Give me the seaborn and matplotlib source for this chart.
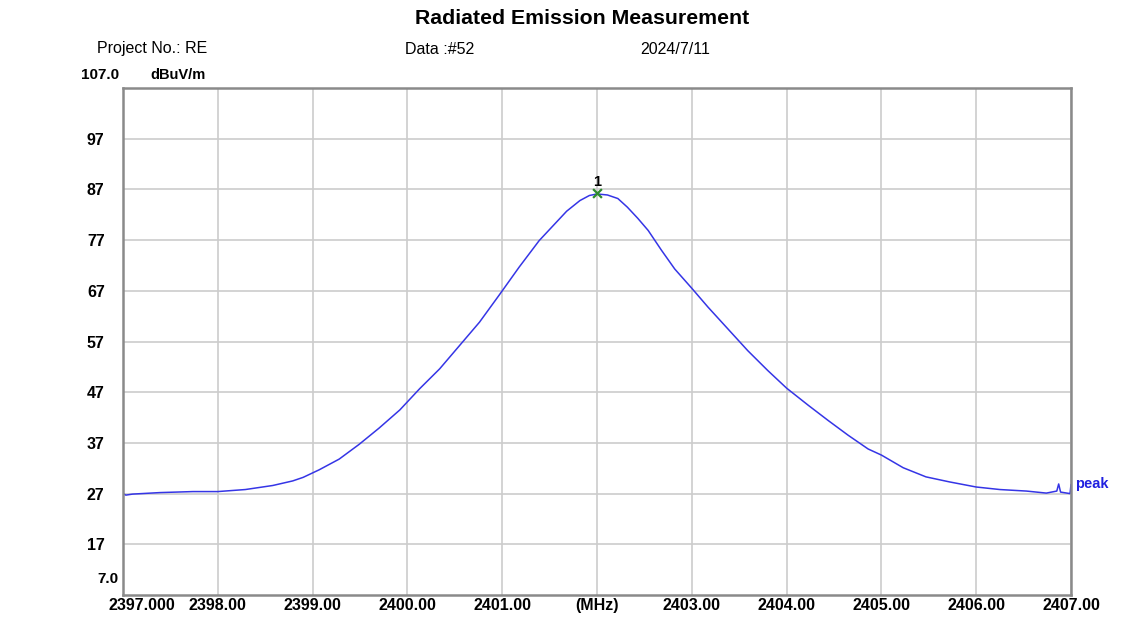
import matplotlib
matplotlib.use("Agg")
import matplotlib.pyplot as plt
from matplotlib.transforms import ScaledTranslation
import seaborn as sns
import pandas as pd

# ---- data ----
freq_mhz = [2397.00, 2397.03, 2397.10, 2397.39, 2397.74, 2398.00, 2398.29, 2398.58,
            2398.79, 2398.90, 2399.07, 2399.28, 2399.49, 2399.70, 2399.92, 2400.13,
            2400.34, 2400.55, 2400.76, 2400.97, 2401.18, 2401.39, 2401.54, 2401.68,
            2401.82, 2401.92, 2402.00, 2402.11, 2402.22, 2402.32, 2402.43, 2402.54,
            2402.68, 2402.82, 2403.00, 2403.17, 2403.38, 2403.59, 2403.80, 2404.00,
            2404.23, 2404.44, 2404.65, 2404.86, 2405.00, 2405.23, 2405.47, 2405.72,
            2406.00, 2406.25, 2406.53, 2406.74, 2406.85, 2406.87, 2406.89, 2406.99,
            2407.00]
level_dbuv = [27.0, 26.7, 26.9, 27.2, 27.4, 27.4, 27.8, 28.6,
              29.5, 30.2, 31.7, 33.8, 36.7, 39.9, 43.5, 47.7,
              51.6, 56.2, 60.8, 66.2, 71.7, 76.9, 79.9, 82.7,
              84.8, 85.8, 86.1, 85.9, 85.2, 83.5, 81.3, 78.9,
              75.0, 71.3, 67.5, 63.8, 59.5, 55.2, 51.3, 47.8,
              44.4, 41.4, 38.5, 35.8, 34.6, 32.1, 30.3, 29.3,
              28.3, 27.8, 27.5, 27.1, 27.5, 28.9, 27.3, 27.0,
              28.8]

marker_freq = [2402.00]
marker_level = [86.3]
marker_labels = ["1"]

y_ticks = [17, 27, 37, 47, 57, 67, 77, 87, 97]
x_ticks = [2397, 2398, 2399, 2400, 2401, 2402, 2403, 2404, 2405, 2406, 2407]
x_tick_labels = ["2397.000", "2398.00", "2399.00", "2400.00", "2401.00", "(MHz)",
                 "2403.00", "2404.00", "2405.00", "2406.00", "2407.00"]
y_min, y_max = 7.0, 107.0

df = pd.DataFrame({"freq": freq_mhz, "level": level_dbuv})

sns.set_theme(style="white")
plt.rcParams["font.family"] = ["Liberation Sans", "DejaVu Sans"]
plt.rcParams["text.color"] = "black"
plt.rcParams["xtick.color"] = "black"
plt.rcParams["ytick.color"] = "black"

fig = plt.figure(figsize=(11.41, 6.18), dpi=100)
ax = fig.add_axes([123 / 1141, 1 - 595 / 618, (1071 - 123) / 1141, (595 - 88) / 618])

sns.lineplot(data=df, x="freq", y="level", ax=ax, color="#3535e6", linewidth=1.1,
             estimator=None, sort=False)
ax.scatter(marker_freq, marker_level, marker="x", color="#2e8b2e", s=40,
           linewidths=1.6, zorder=5)
for f, l, t in zip(marker_freq, marker_level, marker_labels):
    ax.annotate(t, (f, l), xytext=(0, 3), textcoords="offset points", ha="center",
                va="bottom", fontsize=10.5, fontweight="bold", color="black")

ax.set_xlim(2397, 2407)
ax.set_ylim(y_min, y_max)
ax.set_xticks(x_ticks)
ax.set_xticklabels(x_tick_labels, fontsize=11.5, fontweight="bold")
ax.set_yticks(y_ticks)
ax.set_yticklabels([str(v) for v in y_ticks], fontsize=11.5, fontweight="bold", ha="left")
ax.tick_params(axis="both", length=0)
ax.tick_params(axis="y", pad=26)
ax.tick_params(axis="x", pad=2)
ax.set_xlabel("")
ax.set_ylabel("")

# first x label shifted to the right like the reference
first = ax.get_xticklabels()[0]
first.set_transform(first.get_transform() + ScaledTranslation(0.19, 0, fig.dpi_scale_trans))

ax.grid(True, color="#cccccc", linewidth=1.2)
for s in ax.spines.values():
    s.set_visible(True)
    s.set_color("#8a8a8a")
    s.set_linewidth(1.8)

# end labels of the y axis
ax.text(-42 / 948, 1.012, f"{y_max:.1f}", transform=ax.transAxes, ha="left", va="bottom",
        fontsize=11, fontweight="bold")
ax.text(-26 / 948, 0.018, f"{y_min:.1f}", transform=ax.transAxes, ha="left", va="bottom",
        fontsize=11, fontweight="bold")
ax.text(27 / 948, 1.012, "dBuV/m", transform=ax.transAxes, ha="left", va="bottom",
        fontsize=10.5, fontweight="bold")

# trace label
ax.annotate("peak", (1.0, (level_dbuv[-1] - y_min) / (y_max - y_min)),
            xycoords="axes fraction", xytext=(3, 0), textcoords="offset points",
            ha="left", va="center", fontsize=10.5, fontweight="bold", color="#2020e0")

# headers
fig.text(582 / 1141, 1 - 18 / 618, "Radiated Emission Measurement", ha="center",
         va="center", fontsize=15.3, fontweight="bold")
fig.text(97 / 1141, 1 - 49 / 618, "Project No.: RE", ha="left", va="center", fontsize=11.5)
fig.text(405 / 1141, 1 - 49 / 618, "Data :#52", ha="left", va="center", fontsize=11.5)
fig.text(640 / 1141, 1 - 49 / 618, "2024/7/11", ha="left", va="center", fontsize=11.5)

fig.savefig("out.png", dpi=100, facecolor="white")
